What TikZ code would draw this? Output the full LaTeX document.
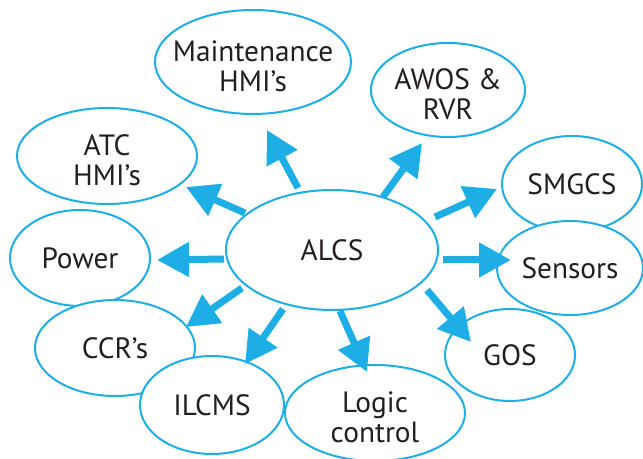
\documentclass[tikz,border=0pt]{standalone}
\usepackage{fontspec}
\setmainfont{PT Sans}
\usetikzlibrary{arrows.meta,shapes.geometric}
\definecolor{skyline}{RGB}{29,174,229}
\definecolor{inktext}{RGB}{35,31,32}
\tikzset{
  txt/.style={align=center, text=inktext, font=\fontsize{22}{22.5}\selectfont},
  bub/.style 2 args={ellipse, draw=skyline, line width=1.5pt, fill=white,
    minimum width=#1*1.5pt, minimum height=#2*1.5pt, inner sep=0pt, txt},
  % two-line captions sit slightly below the ellipse centre
  twoline/.style={txt, inner sep=0pt, yshift=-3.5pt},
  arr/.style={draw=skyline, line width=5.25pt,
    -{Triangle[length=24pt,width=25pt]}}
}
\begin{document}
\begin{tikzpicture}[x=0.75pt,y=-0.75pt]
\useasboundingbox (0,0) rectangle (643,459);
% outer ellipses
\node[bub={98}{52}, label={[twoline]center:{Maintenance\\HMI’s}}] (maint) at (253,62) {};
\node[bub={77}{47}, label={[twoline]center:{AWOS \&\\RVR}}]       (awos)  at (448,90) {};
\node[bub={90}{48}, label={[twoline]center:{ATC\\HMI’s}}]         (atc)   at (107,156) {};
\node[bub={70}{48}] (smgcs)   at (572,184) {SMGCS};
\node[bub={73}{47}] (sensors) at (570,268) {Sensors};
\node[bub={70}{48}] (power)   at (80,258)  {Power};
\node[bub={80}{48}] (ccr)     at (115,348) {CCR’s};
\node[bub={65}{46}] (gos)     at (510,355) {GOS};
\node[bub={72}{49}] (ilcms)   at (212,405) {ILCMS};
\node[bub={90}{48}, label={[twoline]center:{Logic\\control}}]     (logic) at (375,413) {};
% central ellipse
\node[bub={106}{60}] (alcs) at (332,250) {ALCS};
% arrow ends around the centre
\coordinate (t-maint)   at (298,188); \coordinate (h-maint)   at (267,130);
\coordinate (t-atc)     at (245,213); \coordinate (h-atc)     at (186,187);
\coordinate (t-awos)    at (383,197); \coordinate (h-awos)    at (422,143);
\coordinate (t-smgcs)   at (435,217); \coordinate (h-smgcs)   at (497,189);
\coordinate (t-sensors) at (443,260); \coordinate (h-sensors) at (511,260);
\coordinate (t-power)   at (224,259); \coordinate (h-power)   at (157,260);
\coordinate (t-ccr)     at (242,288); \coordinate (h-ccr)     at (186,327);
\coordinate (t-ilcms)   at (283,309); \coordinate (h-ilcms)   at (245,364);
\coordinate (t-logic)   at (340,311); \coordinate (h-logic)   at (367,372);
\coordinate (t-gos)     at (427,290); \coordinate (h-gos)     at (471,342);
\foreach \n in {maint,atc,awos,smgcs,sensors,power,ccr,ilcms,logic,gos}
  \draw[arr] (t-\n) -- (h-\n);
\end{tikzpicture}
\end{document}
